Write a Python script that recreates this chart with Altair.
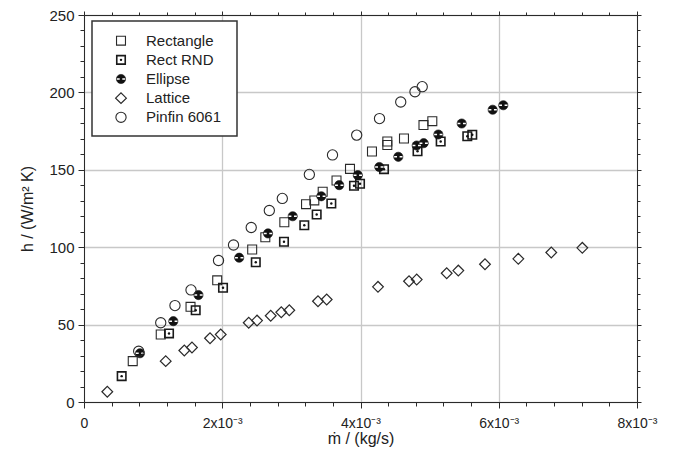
import altair as alt
import pandas as pd

# ---------------- data (m in 10^-3 kg/s, h in W/m^2K) ----------------
series_names = ["Rectangle", "Rect RND", "Ellipse", "Lattice", "Pinfin 6061"]

rect_m = [0.705, 1.110, 1.541, 1.927, 2.433, 2.623, 2.898, 3.212, 3.332, 3.453,
          3.653, 3.848, 4.166, 4.388, 4.388, 4.629, 4.911, 5.039]
rect_h = [26.4, 43.6, 61.5, 78.6, 98.5, 106.4, 116.1, 127.8, 130.2, 135.8,
          143.1, 150.6, 161.8, 168.3, 166.0, 170.2, 178.9, 181.4]

rnd_m = [0.545, 1.230, 1.616, 2.011, 2.485, 2.893, 3.187, 3.366, 3.578, 3.906,
         3.993, 4.340, 4.825, 5.160, 5.545, 5.617]
rnd_h = [16.7, 44.3, 59.3, 73.8, 90.3, 103.5, 114.2, 121.1, 128.2, 139.7,
         141.0, 150.4, 162.0, 168.3, 171.7, 172.6]

ell_m = [0.810, 1.292, 1.656, 2.245, 2.662, 3.019, 3.433, 3.692, 3.961, 4.272,
         4.547, 4.813, 4.914, 5.126, 5.464, 5.912, 6.066]
ell_h = [31.5, 52.2, 69.1, 93.2, 108.9, 120.0, 132.9, 140.1, 146.5, 151.8,
         158.4, 165.7, 167.2, 172.8, 179.9, 188.8, 191.7]

lat_m = [0.337, 1.182, 1.451, 1.562, 1.823, 1.978, 2.383, 2.503, 2.701, 2.854,
         2.970, 3.385, 3.511, 4.253, 4.702, 4.813, 5.247, 5.415, 5.801, 6.283,
         6.760, 7.209]
lat_h = [6.6, 26.4, 33.3, 35.2, 41.2, 43.6, 51.2, 52.6, 55.7, 58.0,
         59.3, 65.1, 66.2, 74.4, 78.0, 79.1, 83.2, 84.9, 89.0, 92.5,
         96.6, 99.6]

pin_m = [0.791, 1.110, 1.316, 1.548, 1.946, 2.163, 2.419, 2.681, 2.869, 3.260,
         3.595, 3.945, 4.275, 4.582, 4.788, 4.893]
pin_h = [32.8, 51.2, 62.3, 72.4, 91.4, 101.4, 112.7, 123.7, 131.5, 147.0,
         159.6, 172.4, 183.1, 193.8, 200.4, 203.7]

x_ticks = [round(i * 0.4, 1) for i in range(21)]
y_ticks = list(range(0, 251, 10))

# ---------------- styling ----------------
FONT = "Liberation Sans"
INK = "#2a2a2a"
TXT = "#222222"
GRID = "#c8c8c8"

series_data = {
    "Rectangle": pd.DataFrame({"m": rect_m, "h": rect_h}),
    "Rect RND": pd.DataFrame({"m": rnd_m, "h": rnd_h}),
    "Ellipse": pd.DataFrame({"m": ell_m, "h": ell_h}),
    "Lattice": pd.DataFrame({"m": lat_m, "h": lat_h}),
    "Pinfin 6061": pd.DataFrame({"m": pin_m, "h": pin_h}),
}

marker_styles = {
    "Rectangle": [dict(shape="square", size=80, filled=False, stroke=INK, strokeWidth=1.1)],
    "Rect RND": [dict(shape="square", size=72, filled=False, stroke="#1a1a1a", strokeWidth=1.6),
                 dict(shape="circle", size=6, filled=True, fill="#111111", strokeWidth=0)],
    "Ellipse": [dict(shape="circle", size=85, filled=True, fill="#111111", stroke="#111111", strokeWidth=0.6),
                dict(shape="M-0.9,0L-0.28,0M0.28,0L0.9,0", size=85, filled=False, stroke="white", strokeWidth=1.5)],
    "Lattice": [dict(shape="diamond", size=115, filled=False, stroke=INK, strokeWidth=1.2)],
    "Pinfin 6061": [dict(shape="circle", size=105, filled=False, stroke=INK, strokeWidth=1.1)],
}

xscale = alt.Scale(domain=[0, 8], nice=False, zero=False)
yscale = alt.Scale(domain=[0, 250], nice=False, zero=False)

X_MAJOR = "round(datum.value * 10) % 20 === 0"
Y_MAJOR = "round(datum.value) % 50 === 0"

common = dict(domainColor=INK, domainWidth=1, tickColor=INK, tickWidth=1,
              labelFont=FONT, titleFont=FONT, labelColor=TXT, titleColor=TXT,
              titleFontSize=16, titleFontWeight="normal")

ax_bottom = alt.Axis(
    orient="bottom", values=x_ticks, title="ṁ / (kg/s)",
    labelExpr=f"({X_MAJOR}) ? (datum.value === 0 ? '0' : format(datum.value, 'd') + 'x10⁻³') : ''",
    labelFlush=False, labelOverlap=False, labelPadding=8, labelFontSize=14,
    grid=True, gridColor=GRID, gridWidth=1.3,
    gridOpacity={"condition": {"test": X_MAJOR, "value": 1}, "value": 0},
    tickSize={"condition": {"test": X_MAJOR, "value": 6}, "value": 4},
    titleY=36, titleBaseline="middle",
    **common,
)
ax_left = alt.Axis(
    orient="left", values=y_ticks, title="h / (W/m² K)",
    labelExpr=f"({Y_MAJOR}) ? datum.label : ''",
    labelFlush=False, labelOverlap=False, labelPadding=4, labelFontSize=15,
    grid=True, gridColor=GRID, gridWidth=1.3,
    gridOpacity={"condition": {"test": Y_MAJOR, "value": 1}, "value": 0},
    tickSize={"condition": {"test": Y_MAJOR, "value": 6}, "value": 4},
    titleAngle=270, titleX=-57, titleY=193.5, titleAlign="center", titleBaseline="middle",
    **common,
)
ax_top = alt.Axis(
    orient="top", values=x_ticks, title=None, labels=False, grid=False,
    tickSize={"condition": {"test": X_MAJOR, "value": 4}, "value": 3},
    domainColor=INK, tickColor=INK, domainWidth=1, tickWidth=1,
)
ax_right = alt.Axis(
    orient="right", values=y_ticks, title=None, labels=False, grid=False,
    tickSize={"condition": {"test": Y_MAJOR, "value": 4}, "value": 3},
    domainColor=INK, tickColor=INK, domainWidth=1, tickWidth=1,
)

layers = []
first = True
for name in series_names:
    df = series_data[name]
    for k, style in enumerate(marker_styles[name]):
        if first:
            xa, ya = ax_bottom, ax_left
            first = False
        else:
            xa, ya = None, None
        layers.append(
            alt.Chart(df).mark_point(opacity=1, **style).encode(
                x=alt.X("m:Q", scale=xscale, axis=xa),
                y=alt.Y("h:Q", scale=yscale, axis=ya),
            )
        )

# frame axes (top/right)
layers.append(
    alt.Chart(series_data["Lattice"]).mark_point(opacity=0).encode(
        x=alt.X("m:Q", scale=xscale, axis=ax_top),
        y=alt.Y("h:Q", scale=yscale, axis=ax_right),
    )
)

# ---------------- legend ----------------
one = alt.Data(values=[{"a": 1}])
layers.append(
    alt.Chart(one).mark_rect(fill="white", stroke="#333333", strokeWidth=1.5).encode(
        x=alt.value(8), x2=alt.value(153), y=alt.value(6), y2=alt.value(121)
    )
)
for i, name in enumerate(series_names):
    yy = 25.7 + 19.15 * i
    for style in marker_styles[name]:
        layers.append(
            alt.Chart(one).mark_point(opacity=1, **style).encode(
                x=alt.value(37), y=alt.value(yy)
            )
        )
    layers.append(
        alt.Chart(alt.Data(values=[{"t": name}])).mark_text(
            align="left", baseline="middle", font=FONT, fontSize=15, color=TXT
        ).encode(x=alt.value(62), y=alt.value(yy), text="t:N")
    )

chart = (
    alt.layer(*layers)
    .resolve_axis(x="independent", y="independent")
    .properties(
        width=553, height=387,
        padding={"left": 76, "top": 7, "right": 32, "bottom": 50},
        autosize=alt.AutoSizeParams(type="none"),
        background="white",
    )
    .configure_view(stroke=None)
)

chart.save("out.html", embed_options={"renderer": "svg", "actions": False})
